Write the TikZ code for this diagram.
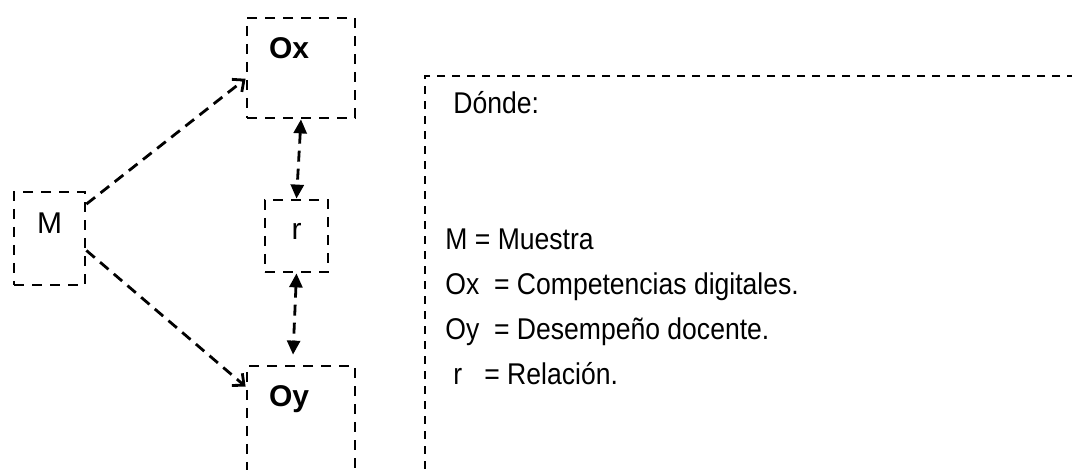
\documentclass[tikz,border=0pt]{standalone}
\usepackage{fontspec}
\setmainfont{Liberation Sans}
\newfontfamily\narrowfont[FakeStretch=0.885]{Liberation Sans}
\usetikzlibrary{arrows.meta,calc}

\begin{document}
\begin{tikzpicture}[x=1pt,y=-1pt,line width=2.8pt,
	caja/.style={draw,dash pattern=on 10pt off 8pt,inner sep=0pt,font=\fontsize{30}{30}\selectfont},
	flecha/.style={dash pattern=on 11pt off 7pt,-{Straight Barb[length=9pt,width=16pt]}},
	doble/.style={dash pattern=on 11pt off 7pt,{Triangle[length=14pt,width=13pt]}-{Triangle[length=14pt,width=13pt]}},
	texto/.style={anchor=base west,inner sep=0pt,font=\narrowfont\fontsize{30}{30}\selectfont}]
	\path[use as bounding box,clip] (0,0) rectangle (1072,470);
	\node (M)  at ( 49.5, 238.5)	[caja, minimum width=71pt, text height=42pt, text depth=51pt]	{M};
	\node (Ox) at (301,    68)	[caja, inner xsep=22pt, text width=64pt, align=left, text height=41pt, text depth=59pt]	{\textbf{Ox}};
	\node (r)  at (296.5, 236)	[caja, minimum width=63pt, text height=40pt, text depth=32pt]	{r};
	\node (Oy) at (301,   453)	[caja, inner xsep=22pt, text width=64pt, align=left, text height=41pt, text depth=133pt]	{\textbf{Oy}};
	\node (leyenda) at (424, 75)	[anchor=north west, draw, line width=2.2pt, dash pattern=on 8pt off 7pt, minimum width=700pt, minimum height=450pt, inner sep=0pt]	{};
	\node (donde) at (452, 114)	[texto]	{Dónde:};
	\node (lM)  at (444, 250)	[texto]	{M = Muestra};
	\node (lOx) at (444, 295)	[texto]	{Ox\ \ = Competencias digitales.};
	\node (lOy) at (444, 340)	[texto]	{Oy\ \ = Desempeño docente.};
	\node (lr)  at (452, 385)	[texto]	{r\ \ \ = Relación.};
	\draw[flecha] (M.43) -- (Ox.191);
	\draw[flecha] (M.-18) -- ($(Oy.north west)+(0,22)$);
	\draw[doble] (Ox.south) -- (r.north);
	\draw[doble, shorten >=10pt] (r.south) -- ($(Oy.north west)+(47,0)$);
\end{tikzpicture}
\end{document}
